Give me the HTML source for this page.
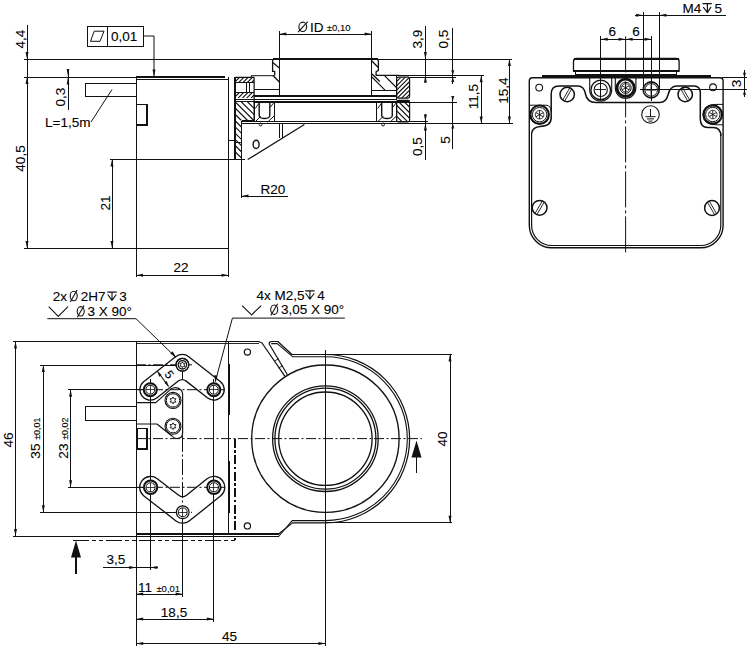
<!DOCTYPE html>
<html><head><meta charset="utf-8"><style>
html,body{margin:0;padding:0;background:#fff;width:750px;height:652px;overflow:hidden}
svg{display:block}
text{font-family:"Liberation Sans",sans-serif;fill:#000;stroke:#000;stroke-width:0.1}
</style></head><body>
<svg width="750" height="652" viewBox="0 0 750 652">
<line x1="24" y1="59" x2="512" y2="59" stroke="#111" stroke-width="1.0" shape-rendering="crispEdges"/>
<line x1="24" y1="77" x2="136" y2="77" stroke="#111" stroke-width="1.0" shape-rendering="crispEdges"/>
<line x1="27" y1="25" x2="27" y2="248" stroke="#111" stroke-width="1.0" shape-rendering="crispEdges"/>
<polygon points="27.00,59.00 25.50,52.00 28.50,52.00" fill="#111"/>
<polygon points="27.00,77.00 25.50,84.00 28.50,84.00" fill="#111"/>
<polygon points="27.00,248.00 25.50,241.00 28.50,241.00" fill="#111"/>
<text x="25" y="39" font-size="13.5" text-anchor="middle" transform="rotate(-90 25 39)">4,4</text>
<text x="25" y="158.5" font-size="13.5" text-anchor="middle" transform="rotate(-90 25 158.5)">40,5</text>
<line x1="68" y1="69" x2="68" y2="110" stroke="#111" stroke-width="1.0" shape-rendering="crispEdges"/>
<polygon points="68.00,76.70 66.70,68.90 69.30,68.90" fill="#111"/>
<polygon points="68.00,76.70 66.70,84.50 69.30,84.50" fill="#111"/>
<text x="65" y="97" font-size="13.5" text-anchor="middle" transform="rotate(-90 65 97)">0,3</text>
<rect x="85" y="83.5" width="51" height="13" rx="0" fill="none" stroke="#111" stroke-width="1.0" shape-rendering="crispEdges"/>
<text x="45" y="127" font-size="13.5" text-anchor="start">L=1,5m</text>
<line x1="91" y1="122" x2="112" y2="89.5" stroke="#111" stroke-width="1.0"/>
<rect x="87" y="26" width="56" height="20" rx="0" fill="none" stroke="#111" stroke-width="1.0" shape-rendering="crispEdges"/>
<line x1="107" y1="26" x2="107" y2="46" stroke="#111" stroke-width="1.0" shape-rendering="crispEdges"/>
<polygon points="90.5,41.3 94.2,31.2 104,31.2 100,41.3" fill="none" stroke="#111" stroke-width="1.0" stroke-linejoin="round"/>
<text x="111" y="41" font-size="13.5" text-anchor="start">0,01</text>
<polyline points="143,36 154,36 154,76" fill="none" stroke="#111" stroke-width="1.0" stroke-linejoin="round"/>
<polygon points="154.00,76.50 152.50,69.50 155.50,69.50" fill="#111"/>
<line x1="136" y1="76.5" x2="224.6" y2="76.5" stroke="#111" stroke-width="2" shape-rendering="crispEdges"/>
<line x1="136" y1="79.4" x2="228" y2="79.4" stroke="#111" stroke-width="1.0" shape-rendering="crispEdges"/>
<line x1="136" y1="76.5" x2="136" y2="277" stroke="#111" stroke-width="1.0" shape-rendering="crispEdges"/>
<line x1="228.3" y1="76.5" x2="228.3" y2="277" stroke="#111" stroke-width="1.0" shape-rendering="crispEdges"/>
<rect x="136.5" y="104.7" width="10.5" height="20.3" rx="0" fill="none" stroke="#111" stroke-width="1.5" shape-rendering="crispEdges"/>
<line x1="110" y1="159.6" x2="245" y2="159.6" stroke="#111" stroke-width="1.0" shape-rendering="crispEdges"/>
<line x1="112" y1="159.6" x2="112" y2="248" stroke="#111" stroke-width="1.0" shape-rendering="crispEdges"/>
<polygon points="112.00,159.60 110.50,166.60 113.50,166.60" fill="#111"/>
<polygon points="112.00,248.00 110.50,241.00 113.50,241.00" fill="#111"/>
<text x="109.5" y="203" font-size="13.5" text-anchor="middle" transform="rotate(-90 109.5 203)">21</text>
<line x1="24" y1="248" x2="228.3" y2="248" stroke="#111" stroke-width="1.0" shape-rendering="crispEdges"/>
<line x1="136" y1="275.3" x2="228.7" y2="275.3" stroke="#111" stroke-width="1.0" shape-rendering="crispEdges"/>
<polygon points="136.00,275.30 143.00,273.80 143.00,276.80" fill="#111"/>
<polygon points="228.50,275.30 221.50,273.80 221.50,276.80" fill="#111"/>
<text x="181" y="272.3" font-size="13.5" text-anchor="middle">22</text>
<line x1="241.5" y1="159.6" x2="241.5" y2="198" stroke="#111" stroke-width="1.0" shape-rendering="crispEdges"/>
<line x1="241.5" y1="196" x2="288" y2="196" stroke="#111" stroke-width="1.0" shape-rendering="crispEdges"/>
<polygon points="241.50,196.00 248.50,194.50 248.50,197.50" fill="#111"/>
<text x="260.5" y="193.5" font-size="13.5" text-anchor="start">R20</text>
<line x1="228.3" y1="140.2" x2="235" y2="140.2" stroke="#111" stroke-width="1.0" shape-rendering="crispEdges"/>
<clipPath id="h1"><rect x="235.2" y="77.4" width="18.9" height="5.2"/></clipPath>
<path d="M230.0,82.60000000000001 L235.2,77.4 M234.29999999999998,82.60000000000001 L239.49999999999997,77.4 M238.6,82.60000000000001 L243.79999999999998,77.4 M242.89999999999998,82.60000000000001 L248.09999999999997,77.4 M247.2,82.60000000000001 L252.39999999999998,77.4 M251.5,82.60000000000001 L256.7,77.4 M255.79999999999998,82.60000000000001 L261.0,77.4" stroke="#111" stroke-width="1.15" clip-path="url(#h1)"/>
<clipPath id="h2"><rect x="235.2" y="92.4" width="18.9" height="5.7"/></clipPath>
<path d="M229.5,98.10000000000001 L235.2,92.4 M233.79999999999998,98.10000000000001 L239.49999999999997,92.4 M238.1,98.10000000000001 L243.79999999999998,92.4 M242.39999999999998,98.10000000000001 L248.09999999999997,92.4 M246.7,98.10000000000001 L252.39999999999998,92.4 M251.0,98.10000000000001 L256.7,92.4 M255.29999999999998,98.10000000000001 L261.0,92.4 M259.59999999999997,98.10000000000001 L265.29999999999995,92.4" stroke="#111" stroke-width="1.15" clip-path="url(#h2)"/>
<clipPath id="h3"><rect x="235.2" y="101" width="18.9" height="19.5"/></clipPath>
<path d="M215.7,101 L235.2,120.5 M221.89999999999998,101 L241.39999999999998,120.5 M228.1,101 L247.6,120.5 M234.29999999999998,101 L253.79999999999998,120.5 M240.5,101 L260.0,120.5 M246.7,101 L266.2,120.5 M252.89999999999998,101 L272.4,120.5 M259.09999999999997,101 L278.59999999999997,120.5 M265.3,101 L284.8,120.5 M271.5,101 L291.0,120.5" stroke="#111" stroke-width="1.15" clip-path="url(#h3)"/>
<clipPath id="h4"><rect x="235.2" y="120.5" width="6.3" height="37.5"/></clipPath>
<path d="M197.7,120.5 L235.2,158.0 M203.89999999999998,120.5 L241.39999999999998,158.0 M210.1,120.5 L247.6,158.0 M216.29999999999998,120.5 L253.79999999999998,158.0 M222.5,120.5 L260.0,158.0 M228.7,120.5 L266.2,158.0 M234.89999999999998,120.5 L272.4,158.0 M241.1,120.5 L278.6,158.0 M247.29999999999998,120.5 L284.79999999999995,158.0 M253.5,120.5 L291.0,158.0 M259.7,120.5 L297.2,158.0 M265.9,120.5 L303.4,158.0 M272.09999999999997,120.5 L309.59999999999997,158.0 M278.3,120.5 L315.8,158.0" stroke="#111" stroke-width="1.15" clip-path="url(#h4)"/>
<polyline points="235.2,77.4 254.1,77.4 254.1,121.5" fill="none" stroke="#111" stroke-width="1.2" stroke-linejoin="round"/>
<line x1="235.2" y1="82.6" x2="254.1" y2="82.6" stroke="#111" stroke-width="1.0" shape-rendering="crispEdges"/>
<line x1="235.2" y1="92.4" x2="254.1" y2="92.4" stroke="#111" stroke-width="1.0" shape-rendering="crispEdges"/>
<line x1="246.1" y1="82.6" x2="246.1" y2="92.4" stroke="#111" stroke-width="1.0" shape-rendering="crispEdges"/>
<line x1="249" y1="82.6" x2="249" y2="92.4" stroke="#111" stroke-width="1.0" shape-rendering="crispEdges"/>
<line x1="241.5" y1="120.5" x2="254.1" y2="120.5" stroke="#111" stroke-width="1.0" shape-rendering="crispEdges"/>
<line x1="241.5" y1="120.5" x2="241.5" y2="159.6" stroke="#111" stroke-width="1.0" shape-rendering="crispEdges"/>
<line x1="235" y1="77.4" x2="235" y2="159.6" stroke="#111" stroke-width="1.6" shape-rendering="crispEdges"/>
<polyline points="251.3,77.4 251.3,75.7 274.3,75.7" fill="none" stroke="#111" stroke-width="1.0" stroke-linejoin="round"/>
<line x1="254.1" y1="89.5" x2="279.7" y2="89.5" stroke="#111" stroke-width="1.0" shape-rendering="crispEdges"/>
<line x1="254.1" y1="96" x2="396.7" y2="96" stroke="#111" stroke-width="1.4" shape-rendering="crispEdges"/>
<line x1="272.6" y1="58.9" x2="378.4" y2="58.9" stroke="#111" stroke-width="1.8" shape-rendering="crispEdges"/>
<path d="M279.3,58.9 H274.6 Q272.6,58.9 272.6,61.4 V71.4 H274.7 V75.5 M273,75.5 L279.3,82 M272.8,62.6 L279.3,68.1" fill="none" stroke="#111" stroke-width="1.3" stroke-linejoin="round"/>
<line x1="279.3" y1="31" x2="279.3" y2="96" stroke="#111" stroke-width="1.2" shape-rendering="crispEdges"/>
<line x1="279.3" y1="34" x2="371.6" y2="34" stroke="#111" stroke-width="1.0" shape-rendering="crispEdges"/>
<polygon points="279.30,34.00 286.30,32.50 286.30,35.50" fill="#111"/>
<polygon points="371.60,34.00 364.60,32.50 364.60,35.50" fill="#111"/>
<ellipse cx="302.8" cy="26.8" rx="3.9" ry="4.7" fill="none" stroke="#111" stroke-width="1.1"/>
<line x1="298" y1="32.2" x2="307.8" y2="21.6" stroke="#111" stroke-width="1.1"/>
<text x="310" y="31.6" font-size="13.5" text-anchor="start">ID</text>
<text x="326.8" y="30.8" font-size="9.5" text-anchor="start">&#177;0,10</text>
<line x1="371.7" y1="31" x2="371.7" y2="96" stroke="#111" stroke-width="1.2" shape-rendering="crispEdges"/>
<path d="M371.7,58.9 H375.9 Q378.4,58.9 378.4,61.7 V70.4 L376.1,71.8 V75.3 H399.4 M371.7,60.8 L378,67.2 M371.7,73.7 L379.8,81.5" fill="none" stroke="#111" stroke-width="1.3" stroke-linejoin="round"/>
<line x1="235.2" y1="99.5" x2="396.7" y2="99.5" stroke="#111" stroke-width="1" shape-rendering="crispEdges"/>
<line x1="235.2" y1="101.5" x2="409.6" y2="101.5" stroke="#111" stroke-width="1" shape-rendering="crispEdges"/>
<line x1="254.1" y1="102.5" x2="456.5" y2="102.5" stroke="#111" stroke-width="1" shape-rendering="crispEdges"/>
<line x1="241.5" y1="121.5" x2="428.3" y2="121.5" stroke="#111" stroke-width="1.4" shape-rendering="crispEdges"/>
<line x1="241.5" y1="123.5" x2="512.8" y2="123.5" stroke="#111" stroke-width="1" shape-rendering="crispEdges"/>
<line x1="399.4" y1="75.3" x2="483.9" y2="75.3" stroke="#111" stroke-width="1.0" shape-rendering="crispEdges"/>
<line x1="409.6" y1="77.5" x2="456" y2="77.5" stroke="#111" stroke-width="1.0" shape-rendering="crispEdges"/>
<clipPath id="h5"><polygon points="371.5,75.3 396.7,75.3 396.7,90.6 371.5,90.6"/></clipPath>
<path d="M356.2,75.3 L371.5,90.6 M370.2,75.3 L385.5,90.6 M384.2,75.3 L399.5,90.6 M398.2,75.3 L413.5,90.6" stroke="#111" stroke-width="1.15" clip-path="url(#h5)"/>
<line x1="371.5" y1="90.6" x2="396.7" y2="90.6" stroke="#111" stroke-width="1.0" shape-rendering="crispEdges"/>
<line x1="396.7" y1="75.3" x2="396.7" y2="98.7" stroke="#111" stroke-width="1.0" shape-rendering="crispEdges"/>
<rect x="396.7" y="77.2" width="12.9" height="20.9" rx="1.5" fill="none" stroke="#111" stroke-width="1.2"/>
<clipPath id="h6"><rect x="396.7" y="77.2" width="12.9" height="20.9"/></clipPath>
<path d="M375.8,98.1 L396.7,77.2 M380.09999999999997,98.1 L400.99999999999994,77.2 M384.4,98.1 L405.29999999999995,77.2 M388.7,98.1 L409.59999999999997,77.2 M393.0,98.1 L413.9,77.2 M397.3,98.1 L418.2,77.2 M401.59999999999997,98.1 L422.49999999999994,77.2 M405.9,98.1 L426.79999999999995,77.2 M410.2,98.1 L431.09999999999997,77.2 M414.5,98.1 L435.4,77.2 M418.8,98.1 L439.7,77.2 M423.1,98.1 L444.0,77.2 M427.4,98.1 L448.29999999999995,77.2" stroke="#111" stroke-width="1.15" clip-path="url(#h6)"/>
<rect x="396.7" y="100.3" width="12.9" height="21.5" rx="1.5" fill="none" stroke="#111" stroke-width="1.2"/>
<clipPath id="h7"><rect x="396.7" y="100.3" width="12.9" height="21.5"/></clipPath>
<path d="M375.2,100.3 L396.7,121.8 M380.7,100.3 L402.2,121.8 M386.2,100.3 L407.7,121.8 M391.7,100.3 L413.2,121.8 M397.2,100.3 L418.7,121.8 M402.7,100.3 L424.2,121.8 M408.2,100.3 L429.7,121.8 M413.7,100.3 L435.2,121.8 M419.2,100.3 L440.7,121.8 M424.7,100.3 L446.2,121.8 M430.2,100.3 L451.7,121.8" stroke="#111" stroke-width="1.15" clip-path="url(#h7)"/>
<rect x="254.1" y="102.3" width="20.2" height="19.5" rx="0" fill="none" stroke="#111" stroke-width="1.2" shape-rendering="crispEdges"/>
<path d="M259.2,102.5 V115.5 A5.3,3 0 0 0 269.8,115.5 V102.5" fill="none" stroke="#111" stroke-width="1.4" stroke-linejoin="round"/>
<path d="M255.1,108.6 L258.8,103.5 M270.3,107.2 L273.5,103.1 M255.5,121.5 L260.6,116.4 M267.5,122.2 L274.0,116" fill="none" stroke="#111" stroke-width="1.0" stroke-linejoin="round"/>
<circle cx="260.6" cy="124.5" r="1.4" fill="none" stroke="#111" stroke-width="1.0"/>
<rect x="376.6" y="102.3" width="20.2" height="19.5" rx="0" fill="none" stroke="#111" stroke-width="1.2" shape-rendering="crispEdges"/>
<path d="M381.70000000000005,102.5 V115.5 A5.3,3 0 0 0 392.3,115.5 V102.5" fill="none" stroke="#111" stroke-width="1.4" stroke-linejoin="round"/>
<path d="M377.6,108.6 L381.3,103.5 M392.8,107.2 L396.0,103.1 M378.0,121.5 L383.1,116.4 M390.0,122.2 L396.5,116" fill="none" stroke="#111" stroke-width="1.0" stroke-linejoin="round"/>
<circle cx="383.1" cy="124.5" r="1.4" fill="none" stroke="#111" stroke-width="1.0"/>
<line x1="279.4" y1="122.8" x2="279.4" y2="137.6" stroke="#111" stroke-width="1.0" shape-rendering="crispEdges"/>
<line x1="282.3" y1="122.8" x2="282.3" y2="137.6" stroke="#111" stroke-width="1.0" shape-rendering="crispEdges"/>
<line x1="304.4" y1="124.5" x2="247.7" y2="159.6" stroke="#111" stroke-width="1.2"/>
<ellipse cx="256.1" cy="144.4" rx="3" ry="4.1" fill="none" stroke="#111" stroke-width="1.4"/>
<line x1="235.2" y1="142" x2="241.5" y2="142" stroke="#111" stroke-width="1.0" shape-rendering="crispEdges"/>
<line x1="425.4" y1="25.6" x2="425.4" y2="82.2" stroke="#111" stroke-width="1.0" shape-rendering="crispEdges"/>
<polygon points="425.40,59.00 423.90,52.00 426.90,52.00" fill="#111"/>
<polygon points="425.40,75.80 423.90,82.80 426.90,82.80" fill="#111"/>
<text x="422.3" y="39" font-size="13.5" text-anchor="middle" transform="rotate(-90 422.3 39)">3,9</text>
<line x1="452.8" y1="27.8" x2="452.8" y2="84.4" stroke="#111" stroke-width="1.0" shape-rendering="crispEdges"/>
<line x1="452.8" y1="95.5" x2="452.8" y2="148.9" stroke="#111" stroke-width="1.0" shape-rendering="crispEdges"/>
<polygon points="452.80,75.30 451.30,70.30 454.30,70.30" fill="#111"/>
<polygon points="452.80,77.00 451.30,82.00 454.30,82.00" fill="#111"/>
<polygon points="452.80,101.00 451.30,96.00 454.30,96.00" fill="#111"/>
<polygon points="452.80,123.50 451.30,128.50 454.30,128.50" fill="#111"/>
<text x="447.5" y="39" font-size="13.5" text-anchor="middle" transform="rotate(-90 447.5 39)">0,5</text>
<text x="450" y="140" font-size="13.5" text-anchor="middle" transform="rotate(-90 450 140)">5</text>
<line x1="425.4" y1="114.4" x2="425.4" y2="160" stroke="#111" stroke-width="1.0" shape-rendering="crispEdges"/>
<polygon points="425.40,121.50 423.90,114.50 426.90,114.50" fill="#111"/>
<polygon points="425.40,123.50 423.90,130.50 426.90,130.50" fill="#111"/>
<text x="422.3" y="146.7" font-size="13.5" text-anchor="middle" transform="rotate(-90 422.3 146.7)">0,5</text>
<line x1="481.2" y1="75.3" x2="481.2" y2="123.5" stroke="#111" stroke-width="1.0" shape-rendering="crispEdges"/>
<polygon points="481.20,75.30 479.70,82.30 482.70,82.30" fill="#111"/>
<polygon points="481.20,123.50 479.70,116.50 482.70,116.50" fill="#111"/>
<text x="478" y="96.7" font-size="13.5" text-anchor="middle" transform="rotate(-90 478 96.7)">11,5</text>
<line x1="509.4" y1="59" x2="509.4" y2="123.5" stroke="#111" stroke-width="1.0" shape-rendering="crispEdges"/>
<polygon points="509.40,59.00 507.90,66.00 510.90,66.00" fill="#111"/>
<polygon points="509.40,123.50 507.90,116.50 510.90,116.50" fill="#111"/>
<text x="507.7" y="90.5" font-size="13.5" text-anchor="middle" transform="rotate(-90 507.7 90.5)">15,4</text>
<text x="682.4" y="12.6" font-size="13.5" text-anchor="start">M4</text>
<path d="M702.4,3.6 H711.8 M703.2,7 L707.4,12.6 L711,7 M707.4,3.6 V12.2" fill="none" stroke="#111" stroke-width="1.2" stroke-linejoin="round"/>
<text x="714.6" y="12.6" font-size="13.5" text-anchor="start">5</text>
<line x1="635.4" y1="15.2" x2="725.5" y2="15.2" stroke="#111" stroke-width="1.0" shape-rendering="crispEdges"/>
<polygon points="643.10,15.20 636.10,13.70 636.10,16.70" fill="#111"/>
<polygon points="659.40,15.20 666.40,13.70 666.40,16.70" fill="#111"/>
<line x1="643.1" y1="12.1" x2="643.1" y2="90" stroke="#111" stroke-width="1.0" shape-rendering="crispEdges"/>
<line x1="659.4" y1="12.1" x2="659.4" y2="90" stroke="#111" stroke-width="1.0" shape-rendering="crispEdges"/>
<text x="612.3" y="35.8" font-size="13.5" text-anchor="middle">6</text>
<text x="636" y="35.8" font-size="13.5" text-anchor="middle">6</text>
<line x1="600.7" y1="39.3" x2="651.5" y2="39.3" stroke="#111" stroke-width="1.0" shape-rendering="crispEdges"/>
<polygon points="600.70,39.30 607.70,37.80 607.70,40.80" fill="#111"/>
<polygon points="625.60,39.30 618.60,37.80 618.60,40.80" fill="#111"/>
<polygon points="625.60,39.30 632.60,37.80 632.60,40.80" fill="#111"/>
<polygon points="651.50,39.30 644.50,37.80 644.50,40.80" fill="#111"/>
<line x1="600.7" y1="36.4" x2="600.7" y2="100.5" stroke="#111" stroke-width="1.0" shape-rendering="crispEdges"/>
<line x1="651.2" y1="36.4" x2="651.2" y2="101" stroke="#111" stroke-width="1.0" shape-rendering="crispEdges"/>
<line x1="625.6" y1="36.4" x2="625.6" y2="255.5" stroke="#111" stroke-width="1" stroke-dasharray="36,3,3,3"/>
<path d="M573.5,71.3 V61.5 Q573.5,58.5 576.5,58.5 H676.1 Q679.1,58.5 679.1,61.5 V71.3 Z" fill="none" stroke="#111" stroke-width="1.3" stroke-linejoin="round"/>
<line x1="573.5" y1="58.8" x2="679.1" y2="58.8" stroke="#111" stroke-width="1.6" shape-rendering="crispEdges"/>
<line x1="573.5" y1="71.3" x2="679.1" y2="71.3" stroke="#111" stroke-width="1.8" shape-rendering="crispEdges"/>
<rect x="575.7" y="71.3" width="101.2" height="3.6" rx="0" fill="none" stroke="#111" stroke-width="1.1" shape-rendering="crispEdges"/>
<path d="M529.3,81 Q529.3,77.7 532.6,77.7 H719.8 Q723.1,77.7 723.1,81 V225.2 A22.6,22.6 0 0 1 700.5,247.8 H551.9 A22.6,22.6 0 0 1 529.3,225.2 Z" fill="none" stroke="#111" stroke-width="1.4" stroke-linejoin="round"/>
<line x1="541.6" y1="76.1" x2="710.7" y2="76.1" stroke="#111" stroke-width="1.8" shape-rendering="crispEdges"/>
<path d="M531.6,133 V225.2 A20.3,20.3 0 0 0 551.9,245.5 H700.5 A20.3,20.3 0 0 0 720.8,225.2 V133" fill="none" stroke="#111" stroke-width="1.2" stroke-linejoin="round"/>
<path d="M531.6,133 Q533,127 540,126.5 Q551.2,126 551.2,118 V94 Q551.2,86 559,86 H578 Q584,86 585.5,94 Q587,102.5 596,102.5 H660 Q666,102.5 668,95 Q670,86 677,86 H694 Q700.3,86 700.3,93 V119 Q700.3,127.6 708,127.6 H713 Q720.8,127.6 720.8,136" fill="none" stroke="#111" stroke-width="1.5" stroke-linejoin="round"/>
<path d="M529.3,105.2 H546 Q551.2,105.2 551.2,112" fill="none" stroke="#111" stroke-width="1.0" stroke-linejoin="round"/>
<path d="M589.7,77.7 V90 A11,11 0 0 0 611.7,90 V77.7" fill="none" stroke="#111" stroke-width="1.1" stroke-linejoin="round"/>
<path d="M615.3,77.7 V88 A10.3,10.3 0 0 0 635.9,88 V77.7" fill="none" stroke="#111" stroke-width="1.1" stroke-linejoin="round"/>
<path d="M723.1,104.4 H716 Q703,104.4 703,115 Q703,124.8 716,124.8 H723.1" fill="none" stroke="#111" stroke-width="1.0" stroke-linejoin="round"/>
<circle cx="600.7" cy="89.9" r="9.8" fill="none" stroke="#111" stroke-width="1.3"/>
<circle cx="600.7" cy="89.9" r="6.6" fill="none" stroke="#111" stroke-width="1.1"/>
<line x1="595.1" y1="89.9" x2="606.3000000000001" y2="89.9" stroke="#111" stroke-width="0.9" shape-rendering="crispEdges"/>
<line x1="600.7" y1="84.30000000000001" x2="600.7" y2="95.5" stroke="#111" stroke-width="0.9" shape-rendering="crispEdges"/>
<circle cx="625.6" cy="87.8" r="8.6" fill="none" stroke="#111" stroke-width="2.8"/>
<circle cx="625.6" cy="87.8" r="5.6" fill="none" stroke="#111" stroke-width="1.0"/>
<path d="M629.24,89.90 L621.96,85.70 M625.60,92.00 L625.60,83.60 M621.96,89.90 L629.24,85.70 " fill="none" stroke="#111" stroke-width="0.9" stroke-linejoin="round"/>
<circle cx="625.6" cy="87.8" r="4.2" fill="none" stroke="#111" stroke-width="0.8"/>
<circle cx="651.2" cy="89.9" r="8.0" fill="none" stroke="#111" stroke-width="1.6"/>
<circle cx="651.2" cy="89.9" r="6.3" fill="none" stroke="#111" stroke-width="1.0"/>
<path d="M646.2,89.9 H656.2 M651.2,84.9 V94.9" fill="none" stroke="#111" stroke-width="1.2" stroke-linejoin="round"/>
<circle cx="539.6" cy="114.7" r="9.2" fill="none" stroke="#111" stroke-width="2.2"/>
<circle cx="539.6" cy="114.7" r="7.2" fill="none" stroke="#111" stroke-width="1.0"/>
<path d="M543.32,116.85 L535.88,112.55 M539.60,119.00 L539.60,110.40 M535.88,116.85 L543.32,112.55 " fill="none" stroke="#111" stroke-width="0.9" stroke-linejoin="round"/>
<circle cx="539.6" cy="114.7" r="4.3" fill="none" stroke="#111" stroke-width="0.8"/>
<circle cx="712.8" cy="114.5" r="9.2" fill="none" stroke="#111" stroke-width="2.2"/>
<circle cx="712.8" cy="114.5" r="7.2" fill="none" stroke="#111" stroke-width="1.0"/>
<path d="M716.52,116.65 L709.08,112.35 M712.80,118.80 L712.80,110.20 M709.08,116.65 L716.52,112.35 " fill="none" stroke="#111" stroke-width="0.9" stroke-linejoin="round"/>
<circle cx="712.8" cy="114.5" r="4.3" fill="none" stroke="#111" stroke-width="0.8"/>
<circle cx="567.2" cy="94.5" r="7.2" fill="none" stroke="#111" stroke-width="1.5"/>
<line x1="569.85" y1="87.71" x2="562.65" y2="100.19" stroke="#111" stroke-width="0.9"/>
<line x1="571.75" y1="88.81" x2="564.55" y2="101.29" stroke="#111" stroke-width="0.9"/>
<circle cx="685.2" cy="94.5" r="7.2" fill="none" stroke="#111" stroke-width="1.5"/>
<line x1="689.75" y1="100.19" x2="682.55" y2="87.71" stroke="#111" stroke-width="0.9"/>
<line x1="687.85" y1="101.29" x2="680.65" y2="88.81" stroke="#111" stroke-width="0.9"/>
<circle cx="539.6" cy="207.8" r="7.4" fill="none" stroke="#111" stroke-width="1.5"/>
<line x1="542.35" y1="200.84" x2="534.95" y2="213.66" stroke="#111" stroke-width="0.9"/>
<line x1="544.25" y1="201.94" x2="536.85" y2="214.76" stroke="#111" stroke-width="0.9"/>
<circle cx="712" cy="208" r="7.4" fill="none" stroke="#111" stroke-width="1.5"/>
<line x1="716.65" y1="213.86" x2="709.25" y2="201.04" stroke="#111" stroke-width="0.9"/>
<line x1="714.75" y1="214.96" x2="707.35" y2="202.14" stroke="#111" stroke-width="0.9"/>
<circle cx="539.2" cy="87.6" r="3.4" fill="none" stroke="#111" stroke-width="1.1"/>
<circle cx="713" cy="87.3" r="3.4" fill="none" stroke="#111" stroke-width="1.1"/>
<circle cx="650.5" cy="114.5" r="8.8" fill="none" stroke="#111" stroke-width="1.1"/>
<path d="M650.5,109 V116.7 M645.4,116.7 H655.6 M647,118.9 H654 M648.5,121.1 H652.5" fill="none" stroke="#111" stroke-width="1.0" stroke-linejoin="round"/>
<line x1="640.2" y1="89.8" x2="747.2" y2="89.8" stroke="#111" stroke-width="1.0" shape-rendering="crispEdges"/>
<line x1="722" y1="77.7" x2="747.2" y2="77.7" stroke="#111" stroke-width="1.0" shape-rendering="crispEdges"/>
<line x1="744.5" y1="70.3" x2="744.5" y2="97.2" stroke="#111" stroke-width="1.0" shape-rendering="crispEdges"/>
<polygon points="744.50,77.70 743.00,72.70 746.00,72.70" fill="#111"/>
<polygon points="744.50,89.80 743.00,94.80 746.00,94.80" fill="#111"/>
<text x="741" y="83.4" font-size="13.5" text-anchor="middle" transform="rotate(-90 741 83.4)">3</text>
<text x="52.7" y="300.7" font-size="13.5" text-anchor="start">2x</text>
<ellipse cx="73.70" cy="296.00" rx="3.5" ry="4.70" fill="none" stroke="#111" stroke-width="1.1"/>
<line x1="70.30" y1="301.90" x2="77.10" y2="290.10" stroke="#111" stroke-width="1.1"/>
<text x="80.7" y="300.7" font-size="13.5" text-anchor="start">2H7</text>
<path d="M107.3,292.1 H116.7 M107.7,294.5 L112.0,300.4 L116.3,294.5 M112.0,292.1 V300.4" fill="none" stroke="#111" stroke-width="1.1" stroke-linejoin="round"/>
<text x="119.3" y="300.7" font-size="13.5" text-anchor="start">3</text>
<polyline points="48.7,306.7 58.3,316.3 68,306.7" fill="none" stroke="#111" stroke-width="1.1" stroke-linejoin="round"/>
<ellipse cx="80.70" cy="311.30" rx="3.5" ry="4.70" fill="none" stroke="#111" stroke-width="1.1"/>
<line x1="77.30" y1="317.20" x2="84.10" y2="305.40" stroke="#111" stroke-width="1.1"/>
<text x="87.5" y="316" font-size="13.5" text-anchor="start">3 X 90°</text>
<polyline points="47.3,318.7 136,318.7 176,357.5" fill="none" stroke="#111" stroke-width="1.0" stroke-linejoin="round"/>
<polygon points="176.5,358 170.3,353.6 172.6,351.3" fill="#111"/>
<text x="256.4" y="299.5" font-size="13.5" text-anchor="start">4x M2,5</text>
<path d="M305.2,290.90000000000003 H314.59999999999997 M305.59999999999997,293.3 L309.9,299.2 L314.2,293.3 M309.9,290.90000000000003 V299.2" fill="none" stroke="#111" stroke-width="1.1" stroke-linejoin="round"/>
<text x="317.2" y="299.5" font-size="13.5" text-anchor="start">4</text>
<polyline points="242,305.6 251.6,314.9 261.2,305.6" fill="none" stroke="#111" stroke-width="1.1" stroke-linejoin="round"/>
<ellipse cx="274.20" cy="309.70" rx="3.5" ry="4.70" fill="none" stroke="#111" stroke-width="1.1"/>
<line x1="270.80" y1="315.60" x2="277.60" y2="303.80" stroke="#111" stroke-width="1.1"/>
<text x="281" y="314.4" font-size="13.5" text-anchor="start">3,05 X 90°</text>
<polyline points="344.9,318.1 232.4,318.1 215.3,381.7" fill="none" stroke="#111" stroke-width="1.0" stroke-linejoin="round"/>
<polygon points="215.2,382.3 214.4,375 217.5,375.8" fill="#111"/>
<line x1="12.5" y1="341.5" x2="136" y2="341.5" stroke="#111" stroke-width="1.0" shape-rendering="crispEdges"/>
<line x1="40" y1="365" x2="182" y2="365" stroke="#111" stroke-width="1.0" shape-rendering="crispEdges"/>
<line x1="67.5" y1="389.7" x2="150" y2="389.7" stroke="#111" stroke-width="1.0" shape-rendering="crispEdges"/>
<line x1="40" y1="512.3" x2="182.7" y2="512.3" stroke="#111" stroke-width="1.0" shape-rendering="crispEdges"/>
<line x1="12.5" y1="536" x2="136" y2="536" stroke="#111" stroke-width="1.0" shape-rendering="crispEdges"/>
<line x1="15.5" y1="341.5" x2="15.5" y2="536" stroke="#111" stroke-width="1.0" shape-rendering="crispEdges"/>
<polygon points="15.50,341.50 14.00,348.50 17.00,348.50" fill="#111"/>
<polygon points="15.50,536.00 14.00,529.00 17.00,529.00" fill="#111"/>
<text x="13" y="440" font-size="13.5" text-anchor="middle" transform="rotate(-90 13 440)">46</text>
<line x1="43.3" y1="365" x2="43.3" y2="512.3" stroke="#111" stroke-width="1.0" shape-rendering="crispEdges"/>
<polygon points="43.30,365.00 41.80,372.00 44.80,372.00" fill="#111"/>
<polygon points="43.30,512.30 41.80,505.30 44.80,505.30" fill="#111"/>
<text x="40" y="438" font-size="13.5" text-anchor="middle" transform="rotate(-90 40 438)">35 <tspan font-size="9">&#177;0,01</tspan></text>
<line x1="70.6" y1="389.7" x2="70.6" y2="487.3" stroke="#111" stroke-width="1.0" shape-rendering="crispEdges"/>
<line x1="67.5" y1="487.3" x2="150" y2="487.3" stroke="#111" stroke-width="1.0" shape-rendering="crispEdges"/>
<polygon points="70.60,389.70 69.10,396.70 72.10,396.70" fill="#111"/>
<polygon points="70.60,487.30 69.10,480.30 72.10,480.30" fill="#111"/>
<text x="67.5" y="438" font-size="13.5" text-anchor="middle" transform="rotate(-90 67.5 438)">23 <tspan font-size="9">&#177;0,02</tspan></text>
<line x1="136.2" y1="341.5" x2="228.5" y2="341.5" stroke="#111" stroke-width="1.8" shape-rendering="crispEdges"/>
<line x1="136.2" y1="343.6" x2="228.5" y2="343.6" stroke="#111" stroke-width="0.9" shape-rendering="crispEdges"/>
<line x1="136.2" y1="341.5" x2="136.2" y2="646" stroke="#111" stroke-width="1.0" shape-rendering="crispEdges"/>
<line x1="228.5" y1="341.5" x2="228.5" y2="534.5" stroke="#111" stroke-width="1.0" shape-rendering="crispEdges"/>
<line x1="228.5" y1="363.6" x2="228.5" y2="415" stroke="#111" stroke-width="2" shape-rendering="crispEdges"/>
<line x1="228.5" y1="461" x2="228.5" y2="512.6" stroke="#111" stroke-width="2" shape-rendering="crispEdges"/>
<rect x="85" y="406.5" width="51" height="13.5" rx="0" fill="none" stroke="#111" stroke-width="1.0" shape-rendering="crispEdges"/>
<rect x="137" y="428.4" width="9.9" height="20.4" rx="0" fill="none" stroke="#111" stroke-width="1.5" shape-rendering="crispEdges"/>
<path d="M136.2,402.6 H155.8 L170.8,389.1 Q176,386 180.5,389.5 Q182.6,391 182.6,394 V433 Q182.6,438.5 177,438.5 Q174,438.5 172,436 L156.9,424 H136.2" fill="none" stroke="#111" stroke-width="1.2" stroke-linejoin="round"/>
<circle cx="173" cy="400.4" r="8.0" fill="none" stroke="#111" stroke-width="1.1"/>
<circle cx="173" cy="400.4" r="6.7" fill="none" stroke="#111" stroke-width="1.0"/>
<polygon points="173.0,397.0 173.94,398.78 175.94,398.7 174.87,400.4 175.94,402.1 173.94,402.02 173.0,403.8 172.06,402.02 170.06,402.1 171.13,400.4 170.06,398.7 172.06,398.78" fill="none" stroke="#111" stroke-width="0.9" stroke-linejoin="round"/>
<circle cx="173" cy="426.2" r="8.0" fill="none" stroke="#111" stroke-width="1.1"/>
<circle cx="173" cy="426.2" r="6.7" fill="none" stroke="#111" stroke-width="1.0"/>
<polygon points="173.0,422.8 173.94,424.58 175.94,424.5 174.87,426.2 175.94,427.9 173.94,427.82 173.0,429.6 172.06,427.82 170.06,427.9 171.13,426.2 170.06,424.5 172.06,424.58" fill="none" stroke="#111" stroke-width="0.9" stroke-linejoin="round"/>
<path d="M143.91,381.49 L175.91,356.59 A10.4,10.4 0 0 1 188.75,356.64 L220.25,381.54 A10.4,10.4 0 0 1 221.96,396.15 A10.4,10.4 0 0 1 207.35,397.86 L186.17,381.12 Q182.25,378.02 178.30,381.09 L156.69,397.91 A10.4,10.4 0 0 1 142.09,396.09 A10.4,10.4 0 0 1 143.91,381.49 Z" fill="none" stroke="#111" stroke-width="1.3" stroke-linejoin="round"/>
<path d="M143.90,495.90 L176.00,520.90 A10.9,10.9 0 0 0 189.52,520.81 L220.72,495.81 A10.9,10.9 0 0 0 222.41,480.48 A10.9,10.9 0 0 0 207.08,478.79 L186.51,495.28 Q182.60,498.41 178.66,495.34 L157.30,478.70 A10.9,10.9 0 0 0 142.00,480.60 A10.9,10.9 0 0 0 143.90,495.90 Z" fill="none" stroke="#111" stroke-width="1.3" stroke-linejoin="round"/>
<line x1="136" y1="438.6" x2="422" y2="438.6" stroke="#111" stroke-width="1" stroke-dasharray="10,2.5,2,2.5"/>
<line x1="150.4" y1="389.7" x2="150.4" y2="569.5" stroke="#111" stroke-width="1.0" shape-rendering="crispEdges"/>
<line x1="213.8" y1="389.7" x2="213.8" y2="622" stroke="#111" stroke-width="1.0" shape-rendering="crispEdges"/>
<line x1="182.5" y1="436" x2="182.5" y2="524" stroke="#111" stroke-width="1" stroke-dasharray="16,2.5,2,2.5"/>
<line x1="182.4" y1="371" x2="182.4" y2="380" stroke="#111" stroke-width="1.0" shape-rendering="crispEdges"/>
<line x1="150.3" y1="379" x2="150.3" y2="383" stroke="#111" stroke-width="1.0" shape-rendering="crispEdges"/>
<line x1="213.8" y1="379" x2="213.8" y2="383" stroke="#111" stroke-width="1.0" shape-rendering="crispEdges"/>
<line x1="136" y1="389.7" x2="225" y2="389.7" stroke="#111" stroke-width="1" stroke-dasharray="10,2.5,2,2.5"/>
<line x1="136" y1="487.3" x2="225" y2="487.3" stroke="#111" stroke-width="1" stroke-dasharray="10,2.5,2,2.5"/>
<line x1="136" y1="364.8" x2="192" y2="364.8" stroke="#111" stroke-width="1" stroke-dasharray="10,2.5,2,2.5"/>
<line x1="136" y1="512.3" x2="176" y2="512.3" stroke="#111" stroke-width="1.0" shape-rendering="crispEdges"/>
<line x1="176" y1="512.3" x2="192" y2="512.3" stroke="#111" stroke-width="1" stroke-dasharray="8,2.5,2,2.5"/>
<circle cx="182.4" cy="364.8" r="6.4" fill="#fff" stroke="#111" stroke-width="1.2"/>
<circle cx="182.4" cy="364.8" r="6.4" fill="none" stroke="#111" stroke-width="1.2"/>
<circle cx="182.4" cy="364.8" r="4.2" fill="none" stroke="#111" stroke-width="1.3"/>
<polygon points="182.4,361.8 183.22,363.37 185.0,363.3 184.05,364.8 185.0,366.3 183.22,366.23 182.4,367.8 181.58,366.23 179.8,366.3 180.75,364.8 179.8,363.3 181.58,363.37" fill="none" stroke="#111" stroke-width="0.9" stroke-linejoin="round"/>
<circle cx="150.3" cy="389.7" r="6.5" fill="#fff" stroke="#111" stroke-width="2"/>
<circle cx="150.3" cy="389.7" r="4.5" fill="none" stroke="#111" stroke-width="1.0"/>
<line x1="145.8" y1="389.7" x2="154.8" y2="389.7" stroke="#111" stroke-width="0.8" shape-rendering="crispEdges"/>
<line x1="150.3" y1="385.2" x2="150.3" y2="394.2" stroke="#111" stroke-width="0.8" shape-rendering="crispEdges"/>
<circle cx="213.8" cy="389.7" r="6.5" fill="#fff" stroke="#111" stroke-width="2"/>
<circle cx="213.8" cy="389.7" r="4.5" fill="none" stroke="#111" stroke-width="1.0"/>
<line x1="209.3" y1="389.7" x2="218.3" y2="389.7" stroke="#111" stroke-width="0.8" shape-rendering="crispEdges"/>
<line x1="213.8" y1="385.2" x2="213.8" y2="394.2" stroke="#111" stroke-width="0.8" shape-rendering="crispEdges"/>
<circle cx="150.6" cy="487.3" r="6.7" fill="#fff" stroke="#111" stroke-width="2"/>
<circle cx="150.6" cy="487.3" r="4.6" fill="none" stroke="#111" stroke-width="1.0"/>
<line x1="146.0" y1="487.3" x2="155.2" y2="487.3" stroke="#111" stroke-width="0.8" shape-rendering="crispEdges"/>
<line x1="150.6" y1="482.7" x2="150.6" y2="491.90000000000003" stroke="#111" stroke-width="0.8" shape-rendering="crispEdges"/>
<circle cx="213.9" cy="487.3" r="6.7" fill="#fff" stroke="#111" stroke-width="2"/>
<circle cx="213.9" cy="487.3" r="4.6" fill="none" stroke="#111" stroke-width="1.0"/>
<line x1="209.3" y1="487.3" x2="218.5" y2="487.3" stroke="#111" stroke-width="0.8" shape-rendering="crispEdges"/>
<line x1="213.9" y1="482.7" x2="213.9" y2="491.90000000000003" stroke="#111" stroke-width="0.8" shape-rendering="crispEdges"/>
<circle cx="182.7" cy="512.3" r="6.4" fill="#fff" stroke="#111" stroke-width="1.2"/>
<circle cx="182.7" cy="512.3" r="4.5" fill="none" stroke="#111" stroke-width="1.0"/>
<line x1="178.2" y1="512.3" x2="187.2" y2="512.3" stroke="#111" stroke-width="0.8" shape-rendering="crispEdges"/>
<line x1="182.7" y1="507.79999999999995" x2="182.7" y2="516.8" stroke="#111" stroke-width="0.8" shape-rendering="crispEdges"/>
<line x1="157.4" y1="371.2" x2="168.6" y2="386.5" stroke="#111" stroke-width="1.1"/>
<polygon points="157.4,371.2 159.2,376.8 161.6,375" fill="#111"/>
<polygon points="168.6,386.5 166.8,380.9 164.4,382.7" fill="#111"/>
<text x="169.4" y="378.8" font-size="12" text-anchor="middle" transform="rotate(53.8 169.4 374.5)">5</text>
<line x1="136.2" y1="534" x2="278.6" y2="534" stroke="#111" stroke-width="1.1" shape-rendering="crispEdges"/>
<line x1="136.2" y1="536.5" x2="278.6" y2="536.5" stroke="#111" stroke-width="1.1" shape-rendering="crispEdges"/>
<line x1="234.9" y1="438.7" x2="234.9" y2="540" stroke="#111" stroke-width="1.3" stroke-dasharray="9,2.5,2.5,2.5" shape-rendering="crispEdges"/>
<line x1="72.5" y1="540.5" x2="234.9" y2="540.5" stroke="#111" stroke-width="1.3" stroke-dasharray="16,3,4,3,4,3" shape-rendering="crispEdges"/>
<polyline points="228.5,341.5 258.6,341.5 262,343 285,376.4" fill="none" stroke="#111" stroke-width="1.2" stroke-linejoin="round"/>
<line x1="228.5" y1="343.1" x2="258.6" y2="343.1" stroke="#111" stroke-width="0.9" shape-rendering="crispEdges"/>
<path d="M287.4,374.8 L269.5,344.5 Q268.5,341.5 272,341.5 H277.8 L292,354.5 H325.4 A84.2,84.2 0 0 1 325.4,522.9 H292.5 L278.6,534" fill="none" stroke="#111" stroke-width="1.2" stroke-linejoin="round"/>
<path d="M271.2,343.6 H277.2 L292.9,356.8 H325.4 A81.9,81.9 0 0 1 325.4,520.6 H292.2 L278.6,536.5" fill="none" stroke="#111" stroke-width="1.1" stroke-linejoin="round"/>
<line x1="274.5" y1="361" x2="279" y2="358.5" stroke="#111" stroke-width="0.9"/>
<line x1="278.5" y1="368" x2="283" y2="365.5" stroke="#111" stroke-width="0.9"/>
<circle cx="325.4" cy="438.7" r="73.7" fill="none" stroke="#111" stroke-width="1.35"/>
<circle cx="325.4" cy="438.7" r="52.8" fill="none" stroke="#111" stroke-width="1.3"/>
<circle cx="325.4" cy="438.7" r="50.5" fill="none" stroke="#111" stroke-width="1.3"/>
<circle cx="325.4" cy="438.7" r="46.7" fill="none" stroke="#111" stroke-width="1.3"/>
<line x1="325.4" y1="350" x2="325.4" y2="646" stroke="#111" stroke-width="1.0" shape-rendering="crispEdges"/>
<circle cx="247.4" cy="352.1" r="3.1" fill="none" stroke="#111" stroke-width="1.2"/>
<circle cx="247.4" cy="525.9" r="3.1" fill="none" stroke="#111" stroke-width="1.2"/>
<line x1="325.4" y1="354.5" x2="452" y2="354.5" stroke="#111" stroke-width="1.0" shape-rendering="crispEdges"/>
<line x1="325.4" y1="522.8" x2="452" y2="522.8" stroke="#111" stroke-width="1.0" shape-rendering="crispEdges"/>
<line x1="450" y1="354.5" x2="450" y2="522.8" stroke="#111" stroke-width="1.0" shape-rendering="crispEdges"/>
<polygon points="450.00,354.50 448.50,361.50 451.50,361.50" fill="#111"/>
<polygon points="450.00,522.80 448.50,515.80 451.50,515.80" fill="#111"/>
<text x="447" y="439" font-size="13.5" text-anchor="middle" transform="rotate(-90 447 439)">40</text>
<line x1="416.5" y1="446.5" x2="416.5" y2="472.5" stroke="#111" stroke-width="1.4" shape-rendering="crispEdges"/>
<polygon points="416.5,440.5 411.5,457.5 421.5,457.5" fill="#111"/>
<line x1="76" y1="546.5" x2="76" y2="574" stroke="#111" stroke-width="1.4" shape-rendering="crispEdges"/>
<polygon points="76,540.5 71,557.5 81,557.5" fill="#111"/>
<line x1="150.3" y1="540" x2="150.3" y2="569.5" stroke="#111" stroke-width="1.0" shape-rendering="crispEdges"/>
<line x1="102.5" y1="567.5" x2="157.5" y2="567.5" stroke="#111" stroke-width="1.0" shape-rendering="crispEdges"/>
<polygon points="136.20,567.50 129.20,566.00 129.20,569.00" fill="#111"/>
<polygon points="150.30,567.50 157.30,566.00 157.30,569.00" fill="#111"/>
<text x="106.5" y="564" font-size="13.5" text-anchor="start">3,5</text>
<line x1="182.6" y1="519" x2="182.6" y2="597" stroke="#111" stroke-width="1.0" shape-rendering="crispEdges"/>
<line x1="136.2" y1="594" x2="182.6" y2="594" stroke="#111" stroke-width="1.0" shape-rendering="crispEdges"/>
<polygon points="136.20,594.00 143.20,592.50 143.20,595.50" fill="#111"/>
<polygon points="182.60,594.00 175.60,592.50 175.60,595.50" fill="#111"/>
<text x="138" y="591.5" font-size="13.5" text-anchor="start">11</text>
<text x="156.4" y="591.5" font-size="9.5" text-anchor="start">&#177;0,01</text>
<line x1="136.2" y1="619" x2="213.8" y2="619" stroke="#111" stroke-width="1.0" shape-rendering="crispEdges"/>
<polygon points="136.20,619.00 143.20,617.50 143.20,620.50" fill="#111"/>
<polygon points="213.80,619.00 206.80,617.50 206.80,620.50" fill="#111"/>
<text x="174" y="616.5" font-size="13.5" text-anchor="middle">18,5</text>
<line x1="136.2" y1="643.6" x2="325.4" y2="643.6" stroke="#111" stroke-width="1.0" shape-rendering="crispEdges"/>
<polygon points="136.20,643.60 143.20,642.10 143.20,645.10" fill="#111"/>
<polygon points="325.40,643.60 318.40,642.10 318.40,645.10" fill="#111"/>
<text x="229.5" y="640.6" font-size="13.5" text-anchor="middle">45</text>
</svg></body></html>
